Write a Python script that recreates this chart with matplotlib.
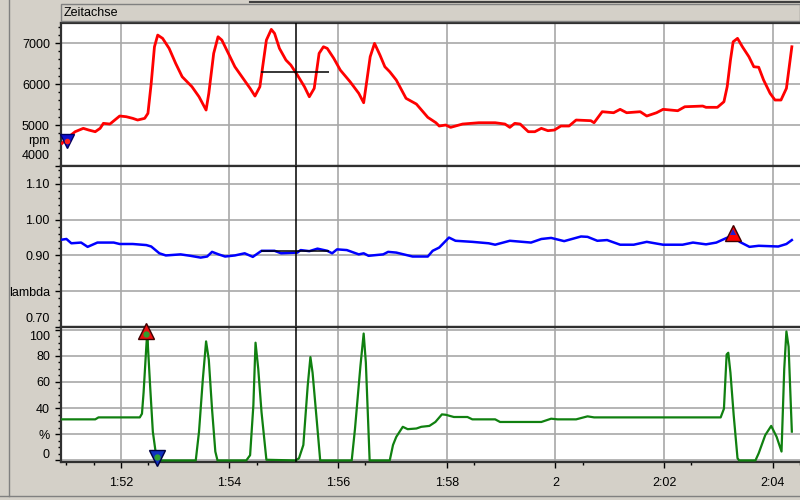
import matplotlib
matplotlib.use('Agg')
import matplotlib.pyplot as plt
from matplotlib.lines import Line2D
from matplotlib.patches import Rectangle
from matplotlib.transforms import ScaledTranslation

plt.rcParams['font.family'] = ['Liberation Sans', 'DejaVu Sans']

# --- data (time in seconds) ---
rpm_t = [110.92, 111.01, 111.16, 111.31, 111.41, 111.53, 111.62, 111.68, 111.80, 111.89,
         111.98, 112.10, 112.22, 112.31, 112.44, 112.50, 112.56, 112.62, 112.68, 112.77,
         112.89, 113.01, 113.13, 113.31, 113.44, 113.57, 113.62, 113.71, 113.79, 113.86,
         113.98, 114.10, 114.25, 114.38, 114.47, 114.56, 114.62, 114.68, 114.77, 114.83,
         114.92, 115.04, 115.13, 115.25, 115.38, 115.47, 115.56, 115.65, 115.73, 115.80,
         115.92, 116.04, 116.22, 116.38, 116.47, 116.53, 116.59, 116.67, 116.77, 116.86,
         116.95, 117.07, 117.25, 117.44, 117.65, 117.80, 117.86, 117.98, 118.07, 118.29,
         118.59, 118.89, 119.07, 119.16, 119.25, 119.35, 119.50, 119.62, 119.74, 119.86,
         119.98, 120.10, 120.25, 120.38, 120.65, 120.71, 120.86, 121.07, 121.19, 121.31,
         121.56, 121.68, 121.86, 121.98, 122.25, 122.38, 122.71, 122.77, 122.98, 123.10,
         123.16, 123.22, 123.27, 123.35, 123.44, 123.56, 123.65, 123.74, 123.83, 123.95,
         124.04, 124.15, 124.25, 124.35]
rpm = [4554, 4676, 4837, 4919, 4878, 4837, 4919, 5041, 5024, 5122,
       5220, 5203, 5163, 5122, 5163, 5285, 6016, 6910, 7195, 7115,
       6870, 6505, 6178, 5935, 5690, 5366, 5773, 6749, 7154, 7073,
       6749, 6422, 6139, 5895, 5707, 5935, 6505, 7073, 7334, 7236,
       6870, 6585, 6463, 6220, 5935, 5690, 5895, 6749, 6910, 6870,
       6627, 6341, 6057, 5773, 5544, 6098, 6666, 6993, 6707, 6422,
       6300, 6098, 5651, 5512, 5188, 5056, 4976, 5000, 4943, 5024,
       5056, 5056, 5024, 4943, 5041, 5024, 4837, 4837, 4919, 4862,
       4878, 4976, 4976, 5122, 5106, 5056, 5325, 5300, 5383, 5300,
       5325, 5220, 5300, 5383, 5349, 5446, 5463, 5432, 5432, 5568,
       5935, 6585, 7032, 7115, 6910, 6666, 6422, 6410, 6098, 5773,
       5610, 5610, 5895, 6910]

lam_t = [110.91, 111.00, 111.09, 111.27, 111.39, 111.57, 111.87, 111.98, 112.22, 112.47,
         112.56, 112.71, 112.83, 113.10, 113.28, 113.47, 113.59, 113.68, 113.80, 113.92,
         114.10, 114.28, 114.43, 114.59, 114.83, 114.95, 115.25, 115.31, 115.47, 115.62,
         115.80, 115.89, 115.98, 116.16, 116.38, 116.47, 116.56, 116.83, 116.92, 117.07,
         117.37, 117.65, 117.74, 117.86, 118.04, 118.16, 118.47, 118.77, 118.89, 119.16,
         119.55, 119.74, 119.92, 120.16, 120.47, 120.59, 120.77, 120.95, 121.19, 121.44,
         121.68, 121.98, 122.34, 122.53, 122.77, 122.96, 123.15, 123.27, 123.39, 123.57,
         123.74, 124.10, 124.25, 124.35]
lam = [0.944, 0.946, 0.934, 0.936, 0.924, 0.936, 0.936, 0.932, 0.932, 0.929,
       0.925, 0.906, 0.900, 0.903, 0.899, 0.894, 0.897, 0.910, 0.903, 0.897,
       0.900, 0.906, 0.896, 0.913, 0.913, 0.906, 0.908, 0.915, 0.912, 0.919,
       0.913, 0.906, 0.917, 0.915, 0.903, 0.906, 0.899, 0.903, 0.910, 0.908,
       0.897, 0.897, 0.913, 0.922, 0.950, 0.941, 0.938, 0.934, 0.930, 0.941,
       0.936, 0.946, 0.949, 0.940, 0.953, 0.952, 0.941, 0.943, 0.930, 0.930,
       0.938, 0.930, 0.930, 0.936, 0.931, 0.936, 0.949, 0.955, 0.938, 0.924,
       0.927, 0.925, 0.932, 0.943]

thr_t = [110.92, 111.53, 111.59, 112.35, 112.39, 112.42, 112.47, 112.49, 112.50, 112.54,
         112.59, 112.64, 112.70, 113.38, 113.44, 113.51, 113.57, 113.62, 113.68, 113.74,
         113.78, 114.31, 114.38, 114.44, 114.48, 114.53, 114.59, 114.68, 115.22, 115.28,
         115.36, 115.44, 115.49, 115.53, 115.61, 115.67, 116.25, 116.31, 116.41, 116.47,
         116.51, 116.58, 116.95, 117.01, 117.07, 117.19, 117.28, 117.44, 117.53, 117.68,
         117.79, 117.91, 117.98, 118.13, 118.38, 118.47, 118.89, 118.98, 119.74, 119.92,
         120.04, 120.38, 120.59, 120.71, 123.04, 123.10, 123.15, 123.18, 123.22, 123.28,
         123.35, 123.38, 123.68, 123.74, 123.86, 123.97, 124.07, 124.16, 124.21, 124.25,
         124.29, 124.35]
thr = [31.4, 31.4, 32.9, 32.9, 35.7, 52, 87, 100, 87, 57,
       22, 6.8, 0, 0, 22, 62, 91, 77, 39, 6.8,
       0, 0, 4, 42, 90, 70, 37, 0.5, 0, 1.7,
       11.8, 57, 79, 67, 29, 0, 0, 24, 72, 97,
       75, 0, 0, 11.8, 18, 25.7, 23.9, 24.4, 25.7, 26.4,
       29.4, 35.2, 34.9, 33.2, 33.2, 31.4, 31.4, 29.4, 29.4, 31.9,
       31.4, 31.4, 33.7, 32.9, 32.9, 39.5, 81, 82.3, 67, 34.4,
       1.7, 0, 0, 5.5, 19.3, 26.4, 18, 6.8, 70, 98.6,
       87, 22]

x_ticks = [112, 114, 116, 118, 120, 122, 124]
x_labels = ['1:52', '1:54', '1:56', '1:58', '2', '2:02', '2:04']
cursor_t = 115.22
cursor_span = [114.58, 115.84]
cursor_rpm = 6293
cursor_lam = 0.913

BG = '#d4d0c8'
GRID = '#a8a8a8'
fig = plt.figure(figsize=(8, 5), dpi=100, facecolor=BG)

def px(x0, y0, x1, y1):
    return [x0 / 800, 1 - y1 / 500, (x1 - x0) / 800, (y1 - y0) / 500]

ax1 = fig.add_axes(px(61, 23, 800, 166))
ax2 = fig.add_axes(px(61, 166, 800, 327))
ax3 = fig.add_axes(px(61, 327, 800, 462))

for ax in (ax1, ax2, ax3):
    ax.set_facecolor('white')
    ax.set_xlim(110.9, 124.35)
    ax.set_xticks(x_ticks)
    ax.set_xticks([t + 0.5 * k for t in [111] + x_ticks for k in (0, 1)], minor=True)
    ax.grid(True, which='major', color=GRID, linewidth=1.2)
    for s in ('top', 'bottom', 'left'):
        ax.spines[s].set_color('#303030')
        ax.spines[s].set_linewidth(1.6)
    ax.spines['right'].set_visible(False)
    ax.tick_params(axis='y', which='major', direction='out', length=4.5, width=1,
                   labelsize=9, pad=3.5)
    ax.tick_params(axis='y', which='minor', direction='out', length=2.2, width=1)
    ax.axvline(cursor_t, color='black', linewidth=1.1, zorder=4)

ax1.tick_params(axis='x', which='both', bottom=False, labelbottom=False)
ax2.tick_params(axis='x', which='both', bottom=False, labelbottom=False)
ax3.set_xticklabels(x_labels)
ax3.tick_params(axis='x', which='major', direction='out', length=4.5, width=1,
                labelsize=9, pad=6)
ax3.tick_params(axis='x', which='minor', direction='out', length=2.5, width=1)

# rpm panel
ax1.plot(rpm_t, rpm, color='#ff0000', linewidth=2.0, zorder=3)
ax1.set_ylim(4000, 7490)
ax1.set_yticks([4000, 5000, 6000, 7000])
ax1.set_yticks(range(4000, 7500, 200), minor=True)
ax1.hlines(cursor_rpm, *cursor_span, color='black', linewidth=1.1, zorder=4)
ax1.plot([111.01], [4600], marker='v', markersize=10, color='#1010d0',
         markeredgecolor='#000060', clip_on=False, zorder=5)
ax1.plot([111.01], [4600], marker='o', markersize=3, color='#ff2020',
         linestyle='none', clip_on=False, zorder=6)
ax1.text(-0.015, 4600, 'rpm', transform=ax1.get_yaxis_transform(), ha='right',
         va='center', fontsize=9)

# lambda panel
ax2.plot(lam_t, lam, color='#0000ff', linewidth=1.8, zorder=3)
ax2.set_ylim(0.70, 1.15)
ax2.set_yticks([0.70, 0.80, 0.90, 1.00, 1.10])
ax2.set_yticklabels(['0.70', 'lambda', '0.90', '1.00', '1.10'])
ax2.set_yticks([0.70 + 0.02 * k for k in range(23)], minor=True)
ax2.hlines(cursor_lam, *cursor_span, color='black', linewidth=1.1, zorder=4)
ax2.plot([123.27], [0.962], marker='^', markersize=11, color='#ff0000',
         markeredgecolor='#400000', zorder=5)
ax2.plot([123.27], [0.966], marker='^', markersize=5, color='#2020d0',
         markeredgewidth=0, zorder=6)

# throttle panel
ax3.plot(thr_t, thr, color='#108010', linewidth=1.6, zorder=3)
ax3.set_ylim(-1.2, 102)
ax3.set_yticks([0, 20, 40, 60, 80, 100])
ax3.set_yticklabels(['0', '%', '40', '60', '80', '100'])
ax3.set_yticks(range(0, 105, 5), minor=True)
ax3.plot([112.47], [99], marker='^', markersize=11, color='#ee1010',
         markeredgecolor='#400000', clip_on=False, zorder=5)
ax3.plot([112.67], [2], marker='v', markersize=11, color='#1030c0',
         markeredgecolor='#000040', clip_on=False, zorder=5)
for mt, mv in ((112.47, 97), (112.67, 3)):
    ax3.plot([mt], [mv], marker='o', markersize=3.5, color='#30a030',
             linestyle='none', clip_on=False, zorder=6)

# nudge edge labels like the logger does
def nudge(ax, text, dy_pt):
    for lab in ax.get_yticklabels():
        if lab.get_text() == text:
            lab.set_transform(lab.get_transform() +
                              ScaledTranslation(0, dy_pt / 72, fig.dpi_scale_trans))

nudge(ax1, '4000', 8)
nudge(ax2, '0.70', 6.5)
nudge(ax3, '100', -4.3)
nudge(ax3, '0', 5)

# window chrome
fig.add_artist(Rectangle((61 / 800, 1 - 21 / 500), 739 / 800, 17 / 500,
                         transform=fig.transFigure, facecolor=BG,
                         edgecolor='#808080', linewidth=1))
fig.text(64 / 800, 1 - 12.5 / 500, 'Zeitachse', fontsize=9, va='center', ha='left')
fig.add_artist(Line2D([250 / 800, 1], [1 - 1.5 / 500] * 2, transform=fig.transFigure,
                      color='#404040', linewidth=1.5))
fig.add_artist(Line2D([9 / 800] * 2, [4 / 500, 1], transform=fig.transFigure,
                      color='#808080', linewidth=1))
fig.add_artist(Line2D([0, 1], [4 / 500] * 2, transform=fig.transFigure,
                      color='#808080', linewidth=1))

fig.savefig('out.png', dpi=100, facecolor=BG)
